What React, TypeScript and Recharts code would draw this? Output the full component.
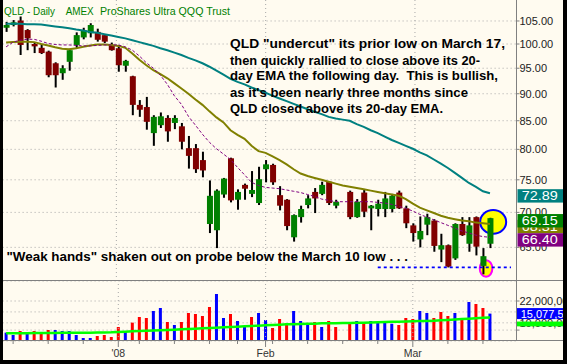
import React from 'react';
import { ComposedChart, Bar, Line, XAxis, YAxis, ReferenceLine, ReferenceDot, CartesianGrid } from 'recharts';

const FONT = "'Liberation Sans', Arial, Helvetica, sans-serif";

// ---------- categories ----------
const dates = [
  '2007-12-07', '2007-12-10', '2007-12-11', '2007-12-12', '2007-12-13', '2007-12-14', '2007-12-17', '2007-12-18',
  '2007-12-19', '2007-12-20', '2007-12-21', '2007-12-24', '2007-12-26', '2007-12-27', '2007-12-28', '2007-12-31',
  '2008-01-02', '2008-01-03', '2008-01-04', '2008-01-07', '2008-01-08', '2008-01-09', '2008-01-10', '2008-01-11',
  '2008-01-14', '2008-01-15', '2008-01-16', '2008-01-17', '2008-01-18', '2008-01-22', '2008-01-23', '2008-01-24',
  '2008-01-25', '2008-01-28', '2008-01-29', '2008-01-30', '2008-01-31', '2008-02-01', '2008-02-04', '2008-02-05',
  '2008-02-06', '2008-02-07', '2008-02-08', '2008-02-11', '2008-02-12', '2008-02-13', '2008-02-14', '2008-02-15',
  '2008-02-18', '2008-02-19', '2008-02-20', '2008-02-21', '2008-02-22', '2008-02-25', '2008-02-26', '2008-02-27',
  '2008-02-28', '2008-02-29', '2008-03-03', '2008-03-04', '2008-03-05', '2008-03-06', '2008-03-07', '2008-03-10',
  '2008-03-11', '2008-03-12', '2008-03-13', '2008-03-14', '2008-03-17', '2008-03-18',
];
const futureSlots = ['2008-03-19', '2008-03-20', '2008-03-21'];

// ---------- price series (OHLC) ----------
const opens = [
  103.5, 104.1, 105.1, 103.0, 100.0, 99.2, 98.4, 96.0, 94.0, 96.3,
  99.8, 101.4, 102.3, 102.6, 101.9, 99.8, 99.1, 95.5, 93.4, 87.9,
  87.5, 82.8, 84.2, 85.5, 84.6, 84.0, 80.2, 80.2, 78.2, 68.3,
  67.4, 72.7, 78.5, 71.9, 74.2, 72.8, 71.4, 76.7, 77.4, 72.6,
  71.9, 66.4, 69.3, 71.1, 73.1, 72.8, 74.7, 71.0, null, 73.1,
  69.3, 73.0, 70.6, 70.5, 70.5, 70.5, 73.0, 70.6, 68.1, 66.1,
  68.2, 68.8, 64.7, 65.3, 63.5, 68.3, 65.5, 69.3, 62.5, 65.5,
];
const highs = [
  104.8, 105.2, 106.0, 103.2, 100.4, 99.9, 98.6, 96.2, 95.6, 99.0,
  102.5, 103.5, 104.5, 103.3, 102.0, 100.3, 99.8, 96.7, 93.5, 88.8,
  89.4, 86.0, 86.5, 86.0, 86.0, 84.6, 82.3, 80.9, 79.6, 74.9,
  73.5, 75.3, 78.6, 73.5, 74.4, 76.4, 77.1, 78.2, 77.6, 74.0,
  72.0, 69.7, 71.0, 72.6, 73.7, 74.7, 74.8, 71.9, null, 73.3,
  72.0, 73.4, 71.1, 71.9, 73.1, 72.8, 73.3, 71.0, 68.4, 69.4,
  69.8, 69.0, 66.9, 65.4, 68.4, 69.3, 69.3, 69.4, 64.9, 69.2,
];
const lows = [
  102.6, 103.8, 97.7, 98.7, 98.1, 97.9, 93.2, 91.2, 92.7, 94.5,
  99.0, 101.0, 101.4, 100.5, 100.2, 98.6, 94.3, 94.3, 86.0, 85.7,
  83.4, 80.6, 83.7, 81.3, 83.5, 80.0, 76.8, 76.1, 75.4, 67.0,
  64.9, 72.2, 71.5, 70.4, 71.9, 72.3, 71.1, 74.6, 74.2, 70.3,
  67.4, 65.8, 68.5, 70.6, 69.9, 72.6, 71.1, 70.6, null, 69.0,
  69.2, 69.3, 67.4, 69.4, 69.3, 70.0, 70.5, 67.7, 65.8, 65.0,
  66.7, 64.4, 63.0, 62.3, 63.3, 66.6, 64.4, 63.9, 61.4, 64.9,
];
const closes = [
  104.1, 104.7, 99.8, 101.2, 99.5, 98.1, 93.6, 93.6, 95.0, 98.7,
  101.9, 102.9, 104.1, 100.9, 100.5, 98.7, 95.6, 96.5, 87.9, 87.0,
  84.8, 85.7, 85.8, 83.1, 85.5, 81.3, 78.9, 76.7, 76.5, 72.5,
  73.3, 75.2, 71.8, 73.1, 73.6, 73.4, 75.1, 77.5, 74.6, 71.0,
  68.0, 69.6, 70.5, 72.1, 72.1, 74.2, 71.4, 71.6, null, 69.3,
  71.6, 70.1, 71.0, 71.3, 72.1, 72.5, 70.6, 68.4, 67.0, 67.3,
  69.3, 65.2, 65.3, 62.4, 68.3, 66.7, 68.1, 65.1, 63.8, 69.15,
];

// ---------- moving averages ----------
const ema50 = [
  104.4, 104.4, 104.4, 104.3, 104.3, 104.2, 104.0, 103.8, 103.6, 103.4,
  103.1, 102.9, 102.6, 102.4, 102.1, 101.8, 101.5, 101.2, 100.8, 100.4,
  100.0, 99.6, 99.1, 98.7, 98.2, 97.7, 97.1, 96.6, 96.0, 95.3,
  94.5, 93.7, 92.9, 92.3, 91.8, 91.2, 90.7, 90.2, 89.6, 89.1,
  88.6, 88.1, 87.6, 87.1, 86.6, 86.2, 85.7, 85.4, 85.2, 85.0,
  84.4, 83.9, 83.3, 82.8, 82.2, 81.6, 81.1, 80.6, 80.1, 79.5,
  79.0, 78.3, 77.6, 76.9, 76.1, 75.3, 74.5, 73.9, 73.2, 72.89,
];
const ema20 = [
  100.3, 100.4, 100.5, 100.5, 100.4, 100.0, 99.7, 99.3, 99.0, 98.9,
  99.1, 99.4, 99.7, 99.9, 99.9, 99.8, 99.6, 99.2, 98.0, 96.7,
  95.6, 94.6, 93.8, 93.0, 92.0, 91.0, 90.0, 88.9, 87.9, 86.7,
  85.6, 84.7, 83.3, 82.5, 81.8, 80.6, 79.7, 79.4, 78.8, 78.2,
  77.5, 76.7, 76.0, 75.6, 75.3, 75.0, 74.7, 74.4, 74.1, 73.9,
  73.7, 73.5, 73.3, 73.1, 72.9, 72.7, 72.5, 72.0, 71.3, 70.7,
  70.3, 69.9, 69.5, 69.2, 69.0, 68.8, 68.7, 68.5, 68.4, 68.31,
];
const ma10 = [
  99.4, 100.4, 100.8, 101.0, 101.0, 100.6, 100.1, 99.9, 99.8, 99.8,
  99.7, 99.6, 99.6, 99.7, 99.8, 99.8, 99.8, 99.4, 98.7, 97.5,
  96.1, 95.0, 93.6, 91.8, 89.6, 88.0, 85.8, 84.2, 82.6, 81.2,
  80.1, 79.2, 78.3, 77.0, 75.8, 74.6, 74.1, 73.8, 73.7, 73.6,
  73.4, 73.2, 73.0, 72.7, 72.4, 72.0, 71.8, 71.6, 71.6, 71.6,
  71.6, 71.6, 71.6, 71.5, 71.4, 71.2, 70.9, 70.6, 70.2, 69.7,
  69.3, 68.9, 68.5, 68.1, 67.7, 67.3, 67.0, 66.7, 66.5, 66.40,
];

// ---------- volume (thousands of shares) ----------
const volumes = [
  4600, 3300, 5500, 4950, 5500, 4600, 6050, 6050, 5500, 5500,
  3300, 1650, 1650, 2750, 3300, 2200, 7700, 5500, 10100, 13200,
  12650, 16500, 18150, 10450, 8800, 10450, 15400, 14850, 13750, 18700,
  25850, 12650, 14850, 11000, 7700, 13200, 15400, 11550, 7150, 12100,
  9900, 16500, 11000, 8800, 10450, 7700, 11000, 7700, null, 9500,
  11000, 9900, 11000, 9900, 10450, 9500, 8800, 12650, 12100, 16500,
  15400, 12650, 15950, 13750, 15400, 11550, 21450, 20350, 18150, 15077.5,
];
// 1 = closed above prior close (blue), 0 = below (red)
const volUp = [
  1, 1, 0, 1, 0, 0, 0, 1, 1, 1,
  1, 1, 1, 0, 0, 0, 0, 1, 0, 0,
  0, 1, 1, 0, 1, 0, 0, 0, 0, 0,
  1, 1, 0, 1, 1, 0, 1, 1, 0, 0,
  0, 1, 1, 1, 0, 1, 0, 0, 0, 0,
  1, 0, 1, 1, 1, 1, 0, 0, 0, 1,
  1, 0, 0, 0, 1, 0, 1, 0, 0, 1,
];
const volMA = [
  4250, 4250, 4300, 4300, 4350, 4350, 4400, 4450, 4500, 4500,
  4550, 4550, 4600, 4650, 4700, 4800, 5000, 5150, 5300, 5450,
  5600, 5750, 5900, 6100, 6250, 6450, 6600, 6800, 6950, 7150,
  7300, 7500, 7700, 7900, 8050, 8250, 8450, 8650, 8800, 9000,
  9150, 9250, 9350, 9450, 9550, 9700, 9750, 9800, 9850, 9950,
  10050, 10100, 10200, 10300, 10400, 10550, 10650, 10750, 10850, 10950,
  11050, 11200, 11400, 11600, 11800, 12050, 12250, 12500, 12800, 12900,
];

// ---------- ticks / labels ----------
const priceTicks = [65, 70, 75, 80, 85, 90, 95, 100, 105];
const volTicks = [6000, 10000, 16000, 22000];
const volLabelTicks = [10000, 22000];
const weekTicks = [
  '2007-12-10', '2007-12-17', '2007-12-24', '2008-01-02', '2008-01-07', '2008-01-14', '2008-01-22', '2008-01-28',
  '2008-02-01', '2008-02-04', '2008-02-11', '2008-02-18', '2008-02-25', '2008-03-03', '2008-03-10', '2008-03-17',
];
const monthStarts = ['2008-01-02', '2008-02-01', '2008-03-03'];
const monthLabels: Record<string, string> = { '2008-01-02': "'08", '2008-02-01': 'Feb', '2008-03-03': 'Mar' };

// annotations
const marchTenLow = 62.3;
const dashStart = '2008-02-25';
const circleClose = { date: '2008-03-18', price: 68.6 };
const circleLow = { date: '2008-03-17', price: 62.15 };
const titleParts = ['QLD - Daily', 'AMEX', 'ProShares Ultra QQQ Trust'];
const noteLines = [
  'QLD "undercut" its prior low on March 17,',
  'then quickly rallied to close above its 20-',
  'day EMA the following day.  This is bullish,',
  "as it's been nearly three months since",
  'QLD closed above its 20-day EMA.',
];
const weakHands = '"Weak hands" shaken out on probe below the March 10 low . . .';

const PRICE_DOMAIN: [number, number] = [60.53, 109.77];
const VOL_DOMAIN: [number, number] = [0, 33000];

const slots = [...dates, ...futureSlots];
const data = slots.map((d, i) => {
  const o = opens[i] ?? null;
  const h = highs[i] ?? null;
  const l = lows[i] ?? null;
  const c = closes[i] ?? null;
  const has = o != null && h != null && l != null && c != null;
  return {
    d,
    c,
    wick: has ? [l, h] : null,
    body: has ? [Math.min(o as number, c as number), Math.max(o as number, c as number)] : null,
    up: has ? (c as number) >= (o as number) : false,
    e50: ema50[i] ?? null,
    e20: ema20[i] ?? null,
    m10: ma10[i] ?? null,
    v: volumes[i] ?? null,
    vUp: volUp[i] === 1,
    vma: volMA[i] ?? null,
  };
});

const W = 567;
const PRICE_H = 281;
const VOL_H = 83;
const LEFT = 2.6;
const AXIS_W = 50.5;
const XPAD = { left: 0, right: 2 };
const GRID = '#A8A8A8';

const WickShape = (p: any) =>
  p.payload && p.payload.wick ? (
    <rect x={p.x} y={p.y} width={p.width} height={Math.max(p.height, 1)} fill="#000000" />
  ) : null;

const BodyShape = (p: any) =>
  p.payload && p.payload.body ? (
    <rect x={p.x} y={p.y} width={p.width} height={Math.max(p.height, 1)} fill={p.payload.up ? '#008000' : '#800000'} />
  ) : null;

const VolShape = (p: any) =>
  p.payload && p.payload.v != null ? (
    <rect x={p.x} y={p.y} width={p.width} height={p.height} fill={p.payload.vUp ? '#0000FF' : '#FF0000'} />
  ) : null;

const priceBox = (color: string, text: string) => (props: any) => {
  const vb = props.viewBox || {};
  const right = (vb.x ?? 0) + (vb.width ?? 0);
  const cy = (vb.y ?? 0) + 2.6;
  return (
    <g>
      <rect x={right + 1} y={cy - 6.7} width={50} height={13.4} fill={color} />
      <text x={right + 5.2} y={cy + 4.4} fill="#FFFFFF" fontSize={13} fontFamily={FONT} textLength={36} lengthAdjust="spacingAndGlyphs">
        {text}
      </text>
    </g>
  );
};

const volBox = (text: string) => (props: any) => {
  const vb = props.viewBox || {};
  const right = (vb.x ?? 0) + (vb.width ?? 0);
  const cy = vb.y ?? 0;
  return (
    <g>
      <rect x={right + 0.5} y={cy - 5.5} width={50} height={11} fill="#0000FF" />
      <text x={right + 4.2} y={cy + 4} fill="#FFFFFF" fontSize={11} fontFamily={FONT}>
        {text}
      </text>
    </g>
  );
};

const volMABox = (props: any) => {
  const vb = props.viewBox || {};
  const right = (vb.x ?? 0) + (vb.width ?? 0);
  const cy = vb.y ?? 0;
  return <rect x={right + 0.5} y={cy + 4} width={50} height={4.8} fill="#00FF00" />;
};

const WeekTick = (p: any) => {
  const value = p.payload ? p.payload.value : '';
  const lbl = monthLabels[value];
  return (
    <g>
      <line x1={p.x} x2={p.x} y1={p.y} y2={p.y + (lbl ? 6 : 3)} stroke="#808080" />
      {lbl ? (
        <text x={p.x} y={p.y + 15.5} textAnchor="middle" fontSize={10.5} fill="#333333" fontFamily={FONT}>
          {lbl}
        </text>
      ) : null}
    </g>
  );
};

function PriceBack() {
  return (
    <ComposedChart width={W} height={PRICE_H} data={data} margin={{ top: 0, right: AXIS_W, bottom: 0, left: LEFT }}>
      <XAxis dataKey="d" hide padding={XPAD} />
      <YAxis hide scale="log" type="number" domain={PRICE_DOMAIN} allowDataOverflow />
      {priceTicks.map((v) => (
        <ReferenceLine key={'h' + v} y={v} stroke={GRID} strokeDasharray="1 3" />
      ))}
      {monthStarts.map((d) => (
        <ReferenceLine key={'v' + d} x={d} stroke={GRID} strokeDasharray="1 3" />
      ))}
      <ReferenceDot
        x={circleClose.date}
        y={circleClose.price}
        r={12}
        shape={(p: any) => <ellipse cx={p.cx} cy={p.cy} rx={13} ry={11.8} fill="#FFFF00" stroke="#0000FF" strokeWidth={2} />}
      />
      <ReferenceDot
        x={circleLow.date}
        y={circleLow.price}
        r={8}
        shape={(p: any) => <ellipse cx={p.cx} cy={p.cy} rx={6.3} ry={8.2} fill="#FFFF00" stroke="#FF00FF" strokeWidth={2} />}
      />
      <Line dataKey="c" stroke="none" dot={false} isAnimationActive={false} />
    </ComposedChart>
  );
}

function PriceMain() {
  return (
    <ComposedChart width={W} height={PRICE_H} data={data} margin={{ top: 0, right: 0, bottom: 0, left: LEFT }}>
      <XAxis dataKey="d" hide padding={XPAD} />
      <XAxis xAxisId="w" dataKey="d" hide padding={XPAD} />
      <YAxis
        orientation="right"
        width={AXIS_W}
        scale="log"
        type="number"
        domain={PRICE_DOMAIN}
        allowDataOverflow
        ticks={priceTicks}
        interval={0}
        tickFormatter={(v: number) => v.toFixed(2)}
        tickSize={3}
        tickMargin={0}
        axisLine={{ stroke: '#808080' }}
        tickLine={{ stroke: '#808080' }}
        tick={{ fontSize: 11, fill: '#222222', fontFamily: FONT }}
      />
      <Bar xAxisId="w" dataKey="wick" barSize={2} shape={WickShape} isAnimationActive={false} />
      <Bar dataKey="body" barSize={6} shape={BodyShape} isAnimationActive={false} />
      <Line dataKey="e50" type="linear" stroke="#008080" strokeWidth={2} dot={false} isAnimationActive={false} />
      <Line dataKey="e20" type="linear" stroke="#808000" strokeWidth={2} dot={false} isAnimationActive={false} />
      <Line dataKey="m10" type="linear" stroke="#800080" strokeWidth={1} strokeDasharray="3 2" dot={false} isAnimationActive={false} />
      <ReferenceLine
        segment={[
          { x: dashStart, y: marchTenLow },
          { x: futureSlots[2], y: marchTenLow },
        ]}
        stroke="#0000FF"
        strokeWidth={1.8}
        strokeDasharray="3 3"
      />
    </ComposedChart>
  );
}

function PriceFront() {
  const last = dates.length - 1;
  return (
    <ComposedChart width={W} height={PRICE_H} data={data} margin={{ top: 0, right: AXIS_W, bottom: 0, left: LEFT }}>
      <XAxis dataKey="d" hide padding={XPAD} />
      <YAxis hide scale="log" type="number" domain={PRICE_DOMAIN} allowDataOverflow />
      <Line dataKey="c" stroke="none" dot={false} isAnimationActive={false} />
      <ReferenceLine y={ema20[last]} stroke="none" label={priceBox('#808000', ema20[last].toFixed(2))} />
      <ReferenceLine y={closes[last] as number} stroke="none" label={priceBox('#008000', (closes[last] as number).toFixed(2))} />
      <ReferenceLine y={ma10[last]} stroke="none" label={priceBox('#800080', ma10[last].toFixed(2))} />
      <ReferenceLine y={ema50[last]} stroke="none" label={priceBox('#008080', ema50[last].toFixed(2))} />
    </ComposedChart>
  );
}

function VolumeMain() {
  return (
    <ComposedChart width={W} height={VOL_H} data={data} margin={{ top: 0, right: 0, bottom: 0, left: LEFT }}>
      <CartesianGrid vertical={false} stroke={GRID} strokeDasharray="1 3" />
      <XAxis
        dataKey="d"
        height={23}
        padding={XPAD}
        ticks={weekTicks}
        interval={0}
        tick={WeekTick}
        tickLine={false}
        tickSize={0}
        tickMargin={0}
        axisLine={false}
      />
      <YAxis
        orientation="right"
        width={AXIS_W}
        type="number"
        domain={VOL_DOMAIN}
        allowDataOverflow
        ticks={volTicks}
        interval={0}
        tickFormatter={(v: number) => (volLabelTicks.includes(v) ? (v * 1000).toLocaleString('en-US') : '')}
        tickSize={3}
        tickMargin={0}
        axisLine={{ stroke: '#808080' }}
        tickLine={{ stroke: '#808080' }}
        tick={{ fontSize: 11, fill: '#222222', fontFamily: FONT }}
      />
      {monthStarts.map((d) => (
        <ReferenceLine key={'vv' + d} x={d} stroke={GRID} strokeDasharray="1 3" />
      ))}
      <Line dataKey="vma" type="linear" stroke="#00FF00" strokeWidth={2.5} dot={false} isAnimationActive={false} />
      <Bar dataKey="v" barSize={3} shape={VolShape} isAnimationActive={false} />
    </ComposedChart>
  );
}

function VolumeFront() {
  const last = dates.length - 1;
  const lastVol = volumes[last] as number;
  return (
    <ComposedChart width={W} height={VOL_H} data={data} margin={{ top: 0, right: AXIS_W, bottom: 23, left: LEFT }}>
      <XAxis dataKey="d" hide padding={XPAD} />
      <YAxis hide type="number" domain={VOL_DOMAIN} allowDataOverflow />
      <Line dataKey="vma" stroke="none" dot={false} isAnimationActive={false} />
      <ReferenceLine y={volMA[last]} stroke="none" label={volMABox} />
      <ReferenceLine y={lastVol} stroke="none" label={volBox((lastVol * 1000).toLocaleString('en-US'))} />
    </ComposedChart>
  );
}

export default function App() {
  const abs = (top: number): React.CSSProperties => ({ position: 'absolute', left: -3, top });
  return (
    <div style={{ position: 'fixed', left: 0, top: 0, width: 567, height: 364, background: '#000000', overflow: 'hidden' }}>
      <div style={{ position: 'absolute', left: 3, top: 0, width: 560, height: 360, background: '#FFFBF0', overflow: 'hidden' }}>
        <div style={abs(0)}>
          <PriceBack />
        </div>
        <div style={abs(0)}>
          <PriceMain />
        </div>
        <div style={abs(0)}>
          <PriceFront />
        </div>
        <div style={abs(281)}>
          <VolumeMain />
        </div>
        <div style={abs(281)}>
          <VolumeFront />
        </div>
        <div style={{ position: 'absolute', left: 0, top: 280, width: 560, height: 1, background: '#808080' }} />
        <div style={{ position: 'absolute', left: 0, top: 340, width: 560, height: 1, background: '#808080' }} />
        <svg width={567} height={364} style={{ position: 'absolute', left: -3, top: 0 }}>
          <g fill="#008000" fontFamily={FONT} fontSize={10.6}>
            <text x={4} y={14.5} textLength={51} lengthAdjust="spacingAndGlyphs">{titleParts[0]}</text>
            <text x={65.7} y={14.5} textLength={28} lengthAdjust="spacingAndGlyphs">{titleParts[1]}</text>
            <text x={100} y={14.5} textLength={130} lengthAdjust="spacingAndGlyphs">{titleParts[2]}</text>
          </g>
          <g fill="#000000" fontFamily={FONT} fontSize={12.3} fontWeight="bold">
            {noteLines.map((t, i) => (
              <text
                key={i}
                x={230}
                y={[47.9, 64.5, 80.4, 96.9, 112.7][i]}
                textLength={[275, 250, 268, 238, 213][i]}
                lengthAdjust="spacingAndGlyphs"
                style={{ whiteSpace: 'pre' }}
              >
                {t}
              </text>
            ))}
            <text x={6.5} y={260.7} textLength={401.5} lengthAdjust="spacingAndGlyphs">
              {weakHands}
            </text>
          </g>
        </svg>
      </div>
    </div>
  );
}
